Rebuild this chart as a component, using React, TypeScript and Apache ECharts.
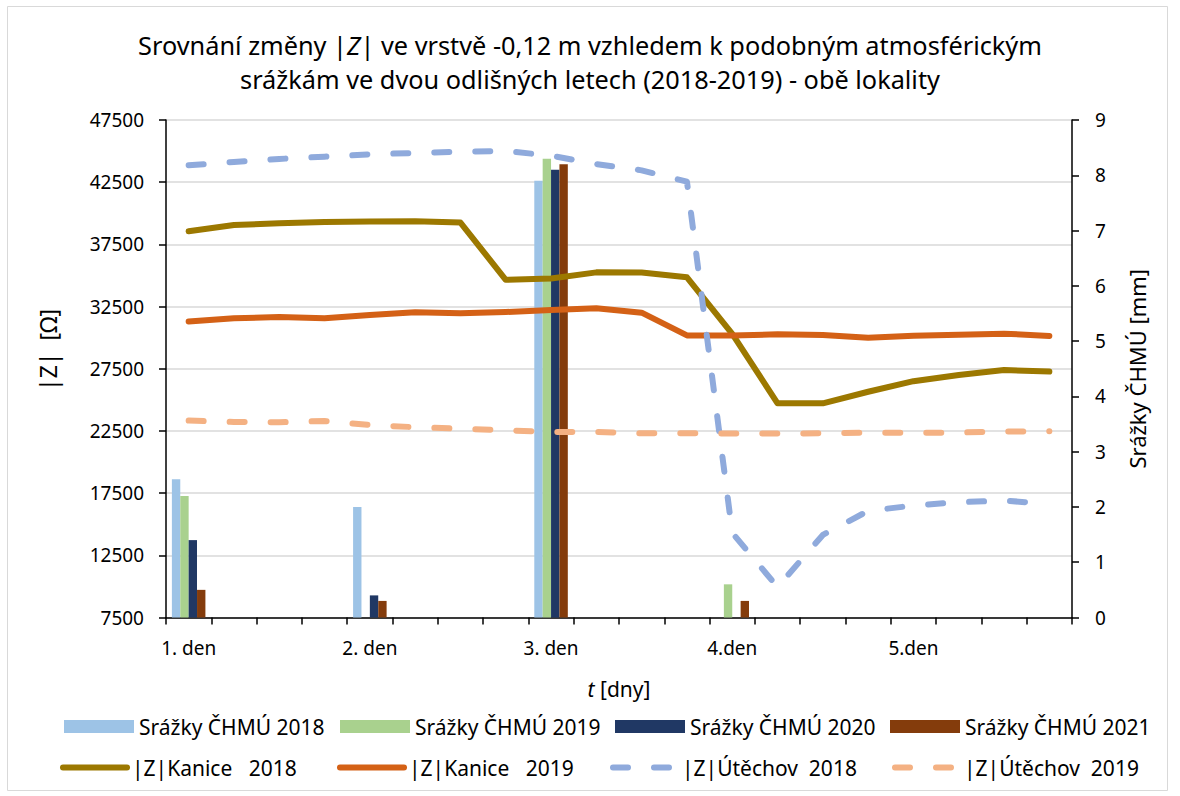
import React, { useEffect, useRef } from "react";
import * as echarts from "echarts";

const FONT = "'Noto Sans', 'Open Sans', sans-serif";

// 20 time steps (4 per day); only each day's first step is labelled
const categories = [
  "1. den", "1/2", "1/3", "1/4",
  "2. den", "2/2", "2/3", "2/4",
  "3. den", "3/2", "3/3", "3/4",
  "4.den", "4/2", "4/3", "4/4",
  "5.den", "5/2", "5/3", "5/4",
];

// precipitation [mm] (right axis)
const srazky2018 = [2.5, 0, 0, 0, 2.0, 0, 0, 0, 7.9, 0, 0, 0, 0, 0, 0, 0, 0, 0, 0, 0];
const srazky2019 = [2.2, 0, 0, 0, 0, 0, 0, 0, 8.3, 0, 0, 0, 0.6, 0, 0, 0, 0, 0, 0, 0];
const srazky2020 = [1.4, 0, 0, 0, 0.4, 0, 0, 0, 8.1, 0, 0, 0, 0, 0, 0, 0, 0, 0, 0, 0];
const srazky2021 = [0.5, 0, 0, 0, 0.3, 0, 0, 0, 8.2, 0, 0, 0, 0.3, 0, 0, 0, 0, 0, 0, 0];

// |Z| [Ohm] (left axis)
const kanice2018 = [38550, 39050, 39200, 39300, 39330, 39350, 39250, 34650, 34750, 35250, 35230, 34850, 30300, 24720, 24720, 25650, 26500, 27000, 27400, 27270];
const kanice2019 = [31290, 31560, 31660, 31560, 31820, 32040, 31960, 32060, 32220, 32360, 32010, 30180, 30180, 30270, 30210, 30000, 30160, 30240, 30320, 30140];
const utechov2018 = [43860, 44120, 44370, 44550, 44740, 44850, 44950, 45010, 44630, 43960, 43450, 42550, 14300, 9950, 14140, 16070, 16500, 16770, 16900, 16630];
const utechov2019 = [23330, 23220, 23200, 23300, 22980, 22800, 22680, 22550, 22420, 22420, 22310, 22310, 22290, 22290, 22310, 22370, 22340, 22370, 22450, 22470];

const barSeries = [
  { name: "Srážky ČHMÚ 2018", data: srazky2018, color: "#9DC3E6" },
  { name: "Srážky ČHMÚ 2019", data: srazky2019, color: "#A9D18E" },
  { name: "Srážky ČHMÚ 2020", data: srazky2020, color: "#203864" },
  { name: "Srážky ČHMÚ 2021", data: srazky2021, color: "#843C0C" },
];

const lineSeries = [
  { name: "|Z|Kanice\u00a0\u00a0 2018", data: kanice2018, color: "#9C7800", dashed: false },
  { name: "|Z|Kanice\u00a0\u00a0 2019", data: kanice2019, color: "#D46116", dashed: false },
  { name: "|Z|Útěchov\u00a0 2018", data: utechov2018, color: "#8FAADC", dashed: true },
  { name: "|Z|Útěchov\u00a0 2019", data: utechov2019, color: "#F4B183", dashed: true },
];

const row1Left = [64, 340, 615, 890];
const row2Left = [60, 337, 610, 892];

function buildOption() {
  const textBase = { fontFamily: FONT, color: "#000" };
  const legends: any[] = [];
  barSeries.forEach((s, i) => {
    legends.push({
      data: [{ name: s.name, icon: "rect" }],
      left: row1Left[i],
      top: 716,
      padding: 0,
      itemWidth: 70,
      itemHeight: 13,
      selectedMode: false,
      textStyle: { ...textBase, fontSize: 21 },
    });
  });
  lineSeries.forEach((s, i) => {
    legends.push({
      data: [{ name: s.name, itemStyle: { opacity: 0 } }],
      left: row2Left[i],
      top: 757,
      padding: 0,
      itemWidth: 64,
      itemHeight: 13,
      selectedMode: false,
      lineStyle: { width: 6 },
      textStyle: { ...textBase, fontSize: 21 },
    });
  });

  return {
    animation: false,
    backgroundColor: "#fff",
    title: {
      text:
        "Srovnání změny |{i|Z}| ve vrstvě -0,12 m vzhledem k podobným atmosférickým\nsrážkám ve dvou odlišných letech (2018-2019) - obě lokality",
      left: "center",
      top: 23,
      textStyle: {
        ...textBase,
        fontSize: 25.3,
        fontWeight: "normal",
        lineHeight: 34,
        rich: { i: { fontStyle: "italic", fontSize: 25.3, fontFamily: FONT, lineHeight: 34, color: "#000" } },
      },
    },
    graphic: [
      {
        type: "rect",
        shape: { x: 7.5, y: 6.5, width: 1160, height: 784 },
        style: { fill: "none", stroke: "#d9d9d9", lineWidth: 1 },
        silent: true,
        z: -10,
      },
      {
        type: "text",
        x: 48,
        y: 350,
        rotation: Math.PI / 2,
        silent: true,
        style: {
          text: "|Z|  [Ω]",
          fontSize: 23,
          fontFamily: FONT,
          fill: "#000",
          align: "center",
          verticalAlign: "middle",
        },
      },
    ],
    legend: legends,
    grid: { left: 166, right: 108, top: 120, bottom: 178.5, containLabel: false },
    xAxis: {
      type: "category",
      data: categories,
      boundaryGap: true,
      name: "{i|t} [dny]",
      nameLocation: "middle",
      nameGap: 61,
      nameTextStyle: {
        ...textBase,
        fontSize: 21,
        rich: { i: { fontStyle: "italic", fontSize: 21, fontFamily: FONT, color: "#000" } },
      },
      axisLine: { onZero: false, lineStyle: { color: "#000", width: 1.5 } },
      axisTick: { show: true, interval: 0, length: 7, lineStyle: { color: "#000", width: 1.5 } },
      axisLabel: { interval: 3, margin: 21, fontSize: 19, ...textBase },
      splitLine: { show: false },
    },
    yAxis: [
      {
        type: "value",
        min: 7500,
        max: 47500,
        interval: 5000,
        position: "left",
        axisLine: { show: true, lineStyle: { color: "#000", width: 1.5 } },
        axisTick: { show: true, length: 7, lineStyle: { color: "#000", width: 1.5 } },
        axisLabel: { margin: 22, fontSize: 19, ...textBase, formatter: (v: number) => String(v) },
        splitLine: { show: true, lineStyle: { color: "#d9d9d9", width: 1.5 } },
      },
      {
        type: "value",
        min: 0,
        max: 9,
        interval: 1,
        position: "right",
        name: "Srážky ČHMÚ [mm]",
        nameLocation: "middle",
        nameGap: 54,
        nameTextStyle: { ...textBase, fontSize: 22 },
        axisLine: { show: true, lineStyle: { color: "#000", width: 1.5 } },
        axisTick: { show: true, length: 7, lineStyle: { color: "#000", width: 1.5 } },
        axisLabel: { margin: 23, fontSize: 19, ...textBase, formatter: (v: number) => String(v) },
        splitLine: { show: false },
      },
    ],
    series: [
      ...barSeries.map((s) => ({
        type: "bar",
        name: s.name,
        data: s.data,
        yAxisIndex: 1,
        barGap: "0%",
        barCategoryGap: "26%",
        itemStyle: { color: s.color },
        z: 2,
      })),
      ...lineSeries.map((s) => ({
        type: "line",
        name: s.name,
        data: s.data,
        yAxisIndex: 0,
        showSymbol: false,
        symbol: "none",
        smooth: false,
        itemStyle: { color: s.color },
        lineStyle: {
          color: s.color,
          width: 6,
          type: s.dashed ? [15, 26] : "solid",
          cap: "round",
          join: "round",
        },
        z: 3,
      })),
    ],
  };
}

export default function App() {
  const ref = useRef<HTMLDivElement>(null);
  useEffect(() => {
    document.body.style.margin = "0";
    const chart = echarts.init(ref.current!, null, { renderer: "svg" });
    chart.setOption(buildOption() as any);
    return () => chart.dispose();
  }, []);
  return <div ref={ref} style={{ width: 1180, height: 796 }} />;
}
